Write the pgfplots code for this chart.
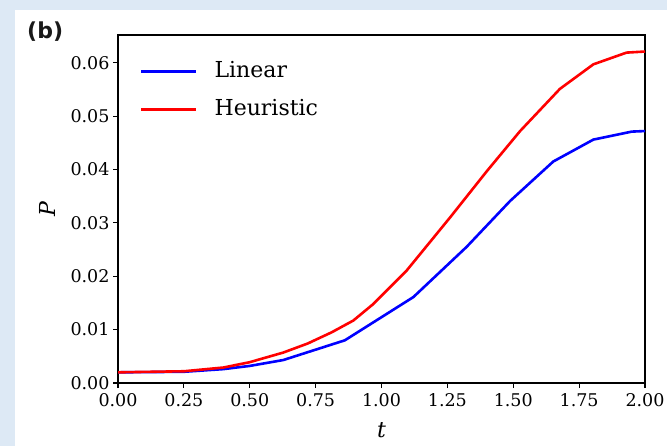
\documentclass[border=0pt]{standalone}
\usepackage{fontspec}
\setmainfont{DejaVu Serif}
\newfontfamily\sansb{DejaVu Sans}
\usepackage{pgfplots}
\pgfplotsset{compat=1.18}
\definecolor{bgblue}{RGB}{221,233,245}
\begin{document}
\begin{tikzpicture}
\useasboundingbox (0,0) rectangle (667bp,446bp);
\fill[bgblue] (0,0) rectangle (667bp,446bp);
\fill[white] (15bp,0) rectangle (667bp,435.5bp);
\node[anchor=west, inner sep=0pt, font=\sansb\bfseries\fontsize{22bp}{24bp}\selectfont, text=black!90] at (27bp,414bp) {(b)};
\begin{axis}[
  at={(118bp,63bp)}, anchor=south west,
  scale only axis, width=527bp, height=348bp,
  xmin=0, xmax=2, ymin=0, ymax=0.0652,
  xtick={0,0.25,0.5,0.75,1,1.25,1.5,1.75,2},
  ytick={0,0.01,0.02,0.03,0.04,0.05,0.06},
  scaled y ticks=false,
  xticklabel style={yshift=-2bp, /pgf/number format/.cd, fixed, fixed zerofill, precision=2},
  yticklabel style={/pgf/number format/.cd, fixed, fixed zerofill, precision=2},
  /pgf/number format/assume math mode=true,
  tick label style={font=\fontsize{17.5bp}{20bp}\selectfont},
  tick align=outside, tick pos=left,
  major tick length=5bp,
  axis line style={line width=1.2bp},
  every tick/.style={line width=1.2bp, black},
  xlabel={\textit{t}}, ylabel={\textit{P}},
  label style={font=\fontsize{22bp}{26bp}\selectfont},
  xlabel style={at={(axis description cs:0.5,-0.135)}, anchor=center},
  ylabel style={at={(axis description cs:-0.1347,0.5)}, anchor=center},
  legend style={draw=none, fill=none, at={(axis description cs:0.0417,0.925)}, anchor=north west,
    inner sep=0pt, outer sep=0pt, row sep=17bp, column sep=17bp,
    font=\fontsize{22bp}{26bp}\selectfont,
    nodes={inner sep=0pt, text height=16bp, text depth=5bp}},
  legend cell align=left,
  legend image code/.code={\draw[#1] (0bp,0bp) -- (55bp,0bp);},
]
\addplot[color={rgb,255:red,0;green,0;blue,255}, line width=2.6bp] coordinates {
(0,0.0020) (0.25,0.0021) (0.4,0.0026) (0.5,0.0032) (0.627,0.0043) (0.861,0.0080)
(1.121,0.0161) (1.323,0.0255) (1.488,0.0341) (1.652,0.0415) (1.804,0.0456) (1.95,0.0471) (2.0,0.0472)
};
\addlegendentry{Linear}
\addplot[color={rgb,255:red,255;green,0;blue,0}, line width=2.6bp] coordinates {
(0,0.0020) (0.25,0.0022) (0.4,0.0029) (0.5,0.0039) (0.627,0.0057) (0.72,0.0074) (0.811,0.0095)
(0.893,0.0117) (0.969,0.0148) (1.096,0.0211) (1.26,0.0310) (1.4,0.0397) (1.526,0.0472) (1.677,0.0551)
(1.804,0.0597) (1.93,0.0619) (2.0,0.0621)
};
\addlegendentry{Heuristic}
\end{axis}
\end{tikzpicture}
\end{document}
